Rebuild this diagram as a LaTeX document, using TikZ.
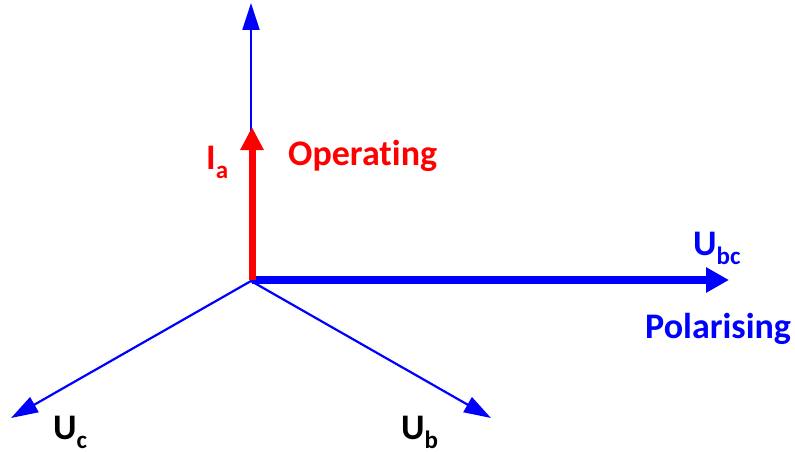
\documentclass[tikz,border=0pt]{standalone}
\usepackage{fontspec}
\setmainfont{Carlito}[Ligatures=CommonOff]
\usetikzlibrary{arrows.meta}
\definecolor{pblue}{RGB}{0,0,255}
\definecolor{pred}{RGB}{255,0,0}
\newcommand\lbl[2]{\fontsize{36}{40}\selectfont\bfseries #1\raisebox{-0.25em}{\fontsize{25}{28}\selectfont #2}}
\tikzset{
  thinvec/.style={draw=pblue, line width=2.2pt, -{Triangle[length=27pt,width=17pt]}},
  thickblue/.style={draw=pblue, line width=8pt, -{Triangle[length=23pt,width=24pt]}},
  thickred/.style={draw=pred, line width=7pt, -{Triangle[length=23pt,width=22pt]}},
  txt/.style={inner sep=0pt, anchor=base west, font=\fontsize{36}{40}\selectfont\bfseries},
}
\begin{document}
\begin{tikzpicture}[x=1pt,y=-1pt]
\useasboundingbox (0,0) rectangle (795,452);
\coordinate (O) at (251,281);
\coordinate (top) at (251,3);
\coordinate (ia) at (252,127);
\coordinate (bc) at (729,280);
\coordinate (c) at (11,418);
\coordinate (b) at (491,418);
\coordinate (Or) at (252,280);
\coordinate (Ob) at (252,280);
\draw[thinvec] (O) -- (top);
\draw[thinvec] (O) -- (c);
\draw[thinvec] (O) -- (b);
\draw[thickblue] (Ob) -- (bc);
\draw[thickred] (Or) -- (ia);
\node[txt, text=pred] (lia) at (206,169) {\lbl{I}{a}};
\node[txt, text=pred] (lop) at (288,165) {Operating};
\node[txt, text=pblue] (lubc) at (693,255) {\lbl{U}{bc}};
\node[txt, text=pblue] (lpol) at (645,338) {Polarising};
\node[txt, text=black] (luc) at (53,439) {\lbl{U}{c}};
\node[txt, text=black] (lub) at (401,439) {\lbl{U}{b}};
\end{tikzpicture}
\end{document}
